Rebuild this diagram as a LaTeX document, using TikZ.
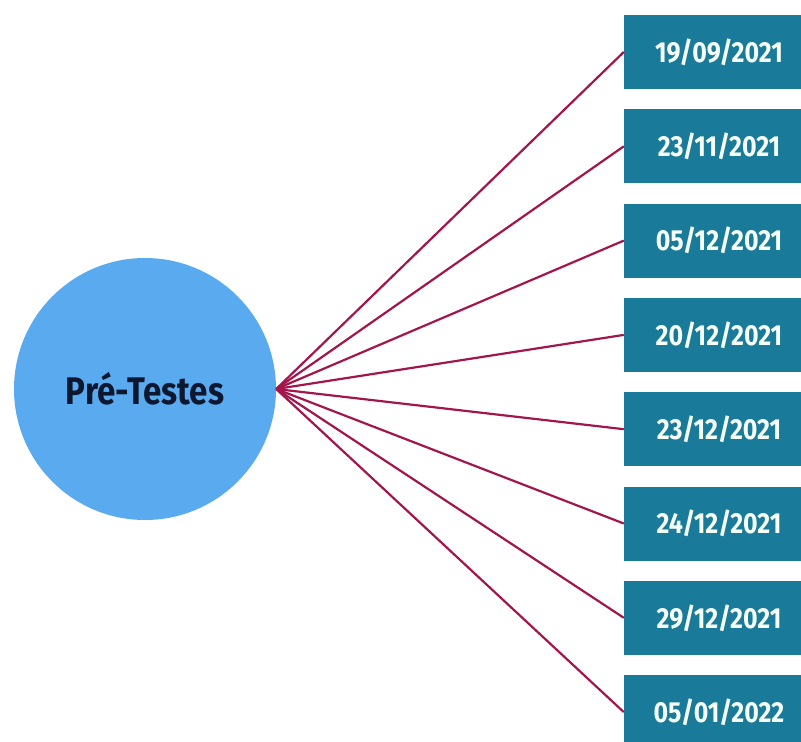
\documentclass[tikz,border=0pt]{standalone}
\usepackage{fontspec}
\setmainfont{Fira Sans}[FakeStretch=0.86]
\usepackage{tikz}
\usetikzlibrary{positioning}

\definecolor{testblue}{HTML}{5AAAF0}
\definecolor{datebox}{HTML}{1A7A99}
\definecolor{linkred}{HTML}{A3164C}
\definecolor{titleink}{HTML}{0E1730}

\tikzset{
    datenode/.style={fill=datebox, draw=none, minimum width=190pt, minimum height=74pt,
        text=white!96!green, font=\fontsize{29}{32}\selectfont\bfseries},
    link/.style={draw=linkred, line width=2.2pt}
}

\begin{document}
\begin{tikzpicture}[x=1pt,y=1pt]
    \useasboundingbox (0,0) rectangle (801,-742);
    \clip (0,0) rectangle (801,-742);
    \node[circle, fill=testblue, minimum size=262pt, inner sep=0pt,
          font=\fontsize{38.5}{42}\selectfont\bfseries, text=titleink]
        (pre) at (145,-389) {Pré-Testes};
    \foreach \d [count=\i] in {19/09/2021,23/11/2021,05/12/2021,20/12/2021,
                               23/12/2021,24/12/2021,29/12/2021,05/01/2022}{
        \node[datenode] (d\i) at (719,{-52-94.3*(\i-1)}) {\d};
        \draw[link] (pre.east) -- (d\i.west);
    }
\end{tikzpicture}
\end{document}
